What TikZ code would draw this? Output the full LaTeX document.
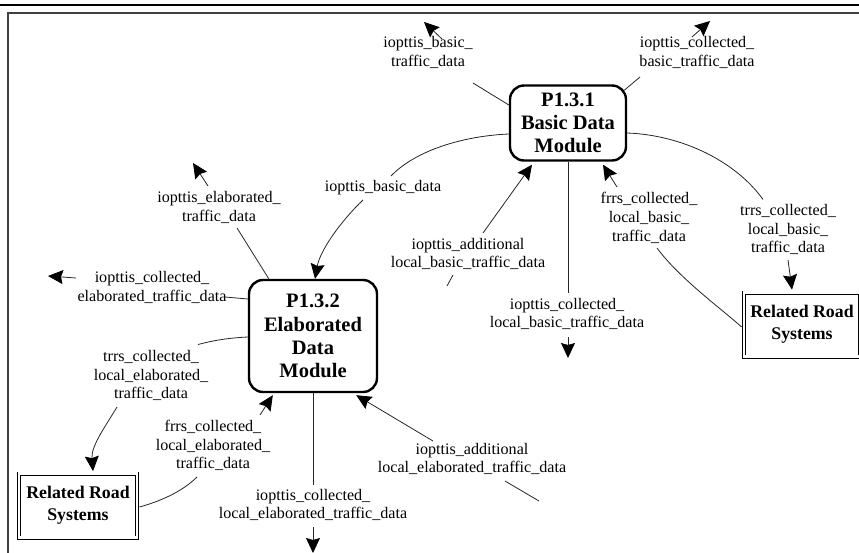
\documentclass[tikz,border=0pt]{standalone}
\usepackage{fontspec}
\setmainfont{Liberation Serif}
\usetikzlibrary{arrows.meta,calc}

\tikzset{
  flow/.style={draw=black!85, line width=0.8pt},
  flowarrow/.style={flow, -{Stealth[length=15pt,width=14pt,inset=2pt,color=black]}},
  lbl/.style={font=\fontsize{16.1}{18.7}\selectfont, align=center, inner sep=1pt},
  procbox/.style={draw, line width=2.4pt, rounded corners=14pt, align=center,
    font=\fontsize{20.5}{23.3}\selectfont\bfseries},
  extbox/.style={draw, double, double distance=2.4pt, line width=0.8pt, align=center,
    font=\fontsize{17.8}{21.6}\selectfont\bfseries},
}

\begin{document}
\begin{tikzpicture}[x=1pt,y=-1pt]
\useasboundingbox (0,0) rectangle (859,553);

% page rule and frame
\draw[line width=2.6pt] (0,5) -- (859,5);
\draw[line width=1.4pt, black!75] (8,580) -- (8,13) -- (880,13);

% processes and external entities
\node[procbox, minimum width=116pt, minimum height=75pt] (p131) at (568,123) {P1.3.1\\Basic Data\\Module};
\node[procbox, minimum width=128pt, minimum height=112pt] (p132) at (313,336) {P1.3.2\\Elaborated\\Data\\Module};
\node[extbox, minimum width=116pt, minimum height=64pt] (rrsR) at (802,324.5) {Related Road\\Systems};
\node[extbox, minimum width=118pt, minimum height=64pt] (rrsL) at (78,505.5) {Related Road\\Systems};

% flow labels
\node[lbl] (l1) at (428,52.5) {iopttis\_basic\_\\traffic\_data};
\node[lbl] (l2) at (697,52.5) {iopttis\_collected\_\\basic\_traffic\_data};
\node[lbl] (l3) at (383,188) {iopttis\_basic\_data};
\node[lbl] (l4) at (219,207.5) {iopttis\_elaborated\_\\traffic\_data};
\node[lbl] (l5) at (152,287.5) {iopttis\_collected\_\\elaborated\_traffic\_data};
\node[lbl] (l6) at (468,254) {iopttis\_additional\\local\_basic\_traffic\_data};
\node[lbl] (l7) at (649,218) {frrs\_collected\_\\local\_basic\_\\traffic\_data};
\node[lbl] (l8) at (788,229.5) {trrs\_collected\_\\local\_basic\_\\traffic\_data};
\node[lbl] (l9) at (567,314) {iopttis\_collected\_\\local\_basic\_traffic\_data};
\node[lbl] (l10) at (151,375.5) {trrs\_collected\_\\local\_elaborated\_\\traffic\_data};
\node[lbl] (l11) at (213,445.5) {frrs\_collected\_\\local\_elaborated\_\\traffic\_data};
\node[lbl] (l12) at (313,505) {iopttis\_collected\_\\local\_elaborated\_traffic\_data};
\node[lbl] (l13) at (472,459) {iopttis\_additional\\local\_elaborated\_traffic\_data};

% free ends of flows leaving the diagram
\coordinate (t1) at (424,22);
\coordinate (t2) at (710,21);
\coordinate (t4) at (193,163);
\coordinate (t5) at (48,276);
\coordinate (t9) at (568,358);
\coordinate (t12) at (313,553);
\coordinate (s6) at (447,286);
\coordinate (s13) at (539,501);

% flows around P1.3.1
\draw[flow] ($(p131.west)+(0,-18)$) -- ($(l1.center)+(45,30.5)$);
\draw[flowarrow] ($(l1.center)+(14,-13.5)$) -- (t1);
\draw[flow] ($(p131.north east)+(-3,6)$) -- ($(l2.center)+(-57,24.5)$);
\draw[flowarrow] ($(l2.center)+(-5,-15.5)$) -- (t2);
\draw[flow] ($(p131.west)+(0,11)$) .. controls +(-45,2) and +(25,-26) .. ($(l3.center)+(8,-12)$);
\draw[flowarrow] ($(l3.center)+(-20,12)$) .. controls +(-23,22) and +(5,-28) .. ($(p132.north)+(2,0)$);
\draw[flow] ($(p131.east)+(0,10)$) .. controls +(54,2) and +(-28,-39) .. ($(l8.center)+(-25,-30)$);
\draw[flowarrow] ($(l8.center)+(0,30.5)$) -- ($(rrsR.north)+(-10,-2.5)$);
\draw[flowarrow] ($(l7.center)+(-32,-31)$) -- ($(p131.south)+(35,3)$);
\draw[flow] ($(l7.center)+(8,30)$) .. controls +(22,30) and +(-20,-18) .. ($(rrsR.west)+(-2,2.5)$);
\draw[flowarrow] ($(l6.center)+(15,-21)$) -- ($(p131.south)+(-36,3)$);
\draw[flow] ($(l6.center)+(-15,21)$) -- (s6);
\draw[flow] (p131.south) -- ($(l9.center)+(1,-21)$);
\draw[flowarrow] ($(l9.center)+(1,23)$) -- (t9);

% flows around P1.3.2
\draw[flow] ($(p132.north west)+(21,0)$) -- ($(l4.center)+(18,20.5)$);
\draw[flowarrow] ($(l4.center)+(-11,-21.5)$) -- (t4);
\draw[flow] ($(p132.west)+(0,-37)$) -- ($(l5.center)+(73,9.5)$);
\draw[flowarrow] ($(l5.center)+(-76,-9.5)$) -- (t5);
\draw[flow] ($(p132.west)+(0,1)$) .. controls +(-20,1) and +(15,-4) .. ($(l10.center)+(47,-31)$);
\draw[flowarrow] ($(l10.center)+(-34,31.5)$) .. controls +(-12,20) and +(-2,-25) .. ($(rrsL.north)+(15,-2)$);
\draw[flowarrow] ($(l11.center)+(47,-30.5)$) -- ($(p132.south west)+(25,2)$);
\draw[flow] ($(rrsL.east)+(2,1.5)$) .. controls +(22,-6) and +(-14,14) .. ($(l11.center)+(-16,31.5)$);
\draw[flow] (p132.south) -- ($(l12.center)+(0,-20)$);
\draw[flowarrow] ($(l12.center)+(0,22)$) -- (t12);
\draw[flowarrow] ($(l13.center)+(-39,-18)$) -- ($(p132.south east)+(-22,2)$);
\draw[flow] ($(l13.center)+(33,22)$) -- (s13);
\end{tikzpicture}
\end{document}
